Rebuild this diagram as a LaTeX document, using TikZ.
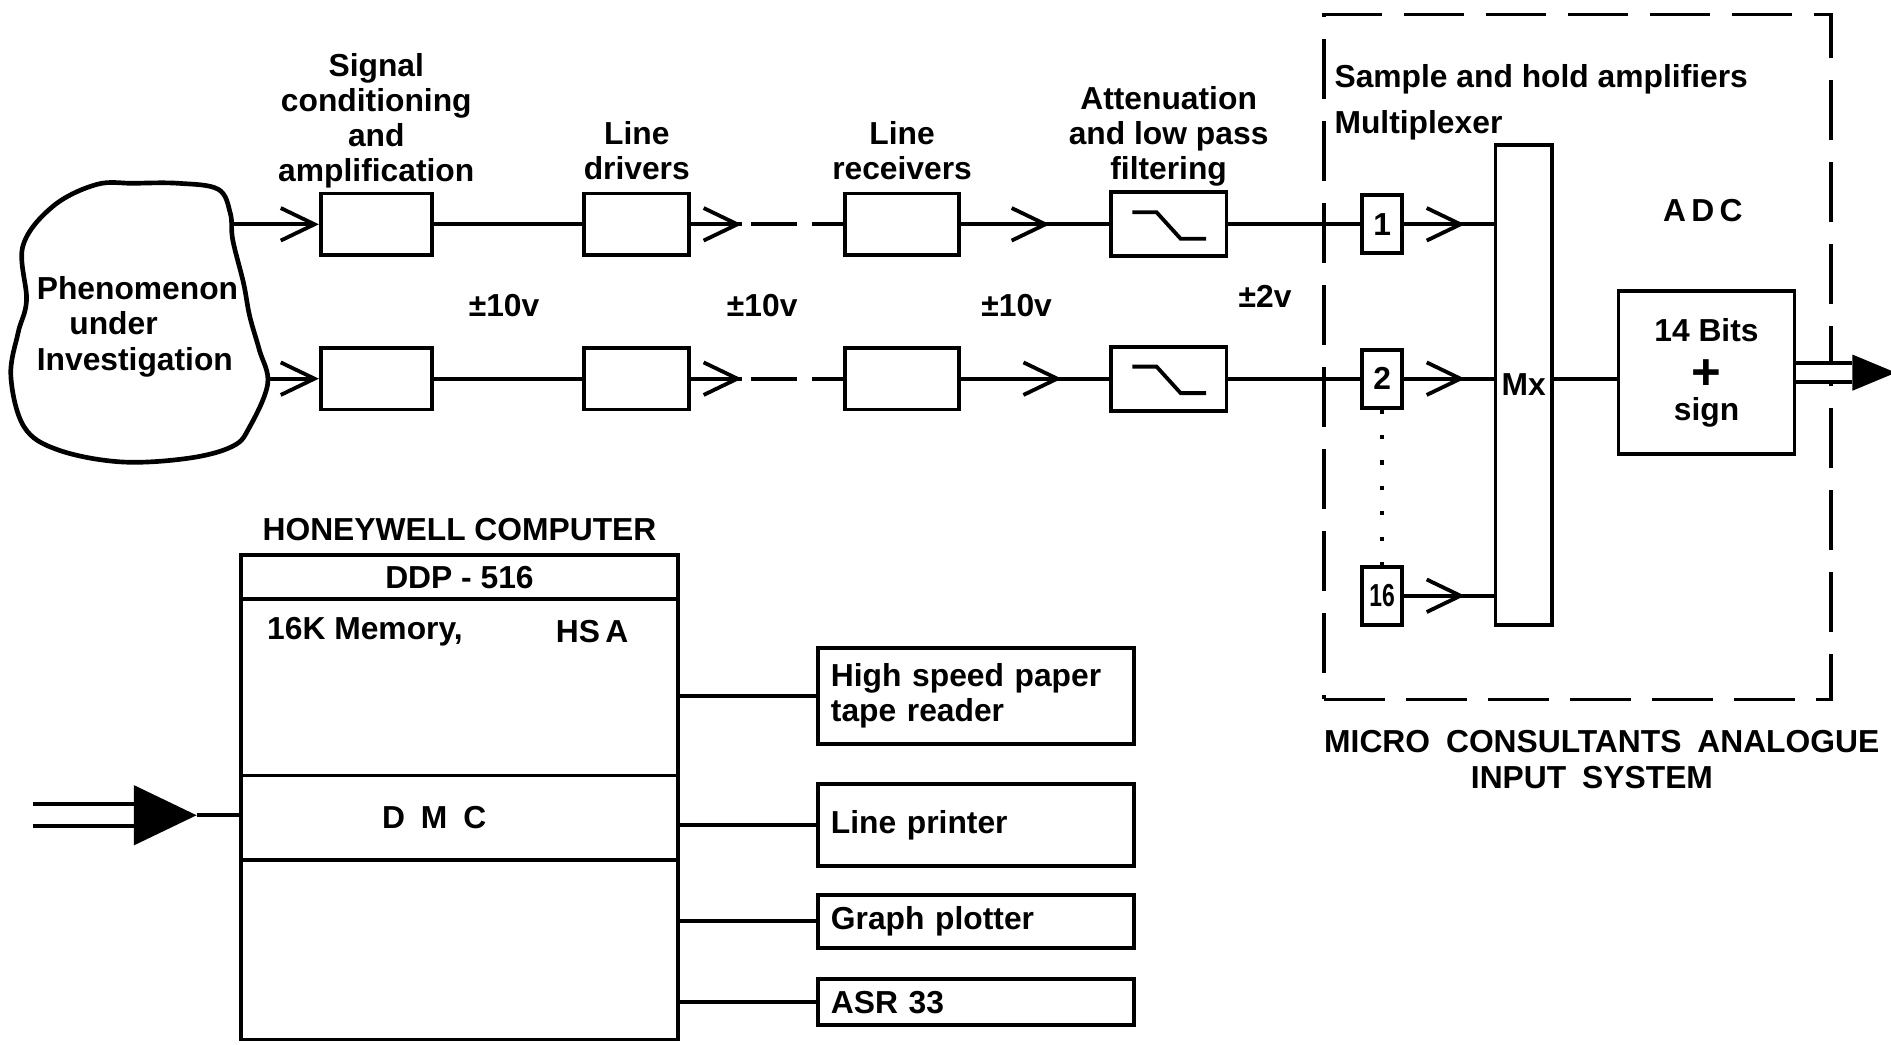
\documentclass[tikz,border=0pt]{standalone}
\usepackage{fontspec}
\setmainfont{Liberation Sans}
\usepackage{tikz}
\usetikzlibrary{arrows.meta,calc,positioning,decorations.markings}

\begin{document}
\begin{tikzpicture}[
  line width=0.9pt,
  font=\fontsize{7.5}{8.3}\selectfont\bfseries,
  >={Straight Barb[length=2.8mm,width=2.7mm]},
  blk/.style={draw,minimum width=0.92cm,minimum height=0.51cm,inner sep=0pt},
  shbox/.style={draw,minimum width=0.33cm,minimum height=0.48cm,inner sep=0pt},
  cpu/.style={draw,minimum width=3.62cm,inner sep=0pt,outer sep=0pt},
  peri/.style={draw,minimum width=2.62cm,text width=2.4cm,align=left,inner sep=0pt},
  lbl/.style={align=center,inner sep=0pt},
  midarrow/.style={postaction={decorate},
    decoration={markings,mark=at position #1 with {\arrow{>}}}},
  brk/.style={dash pattern=on 4.2mm off 0.8mm on 3.8mm off 1.2mm on 3mm},
  dbl/.style={double,double distance=#1},
]
\useasboundingbox (0,0) rectangle (15.68,8.66);

% phenomenon
\draw[line width=1.1pt] plot[smooth cycle,tension=0.6] coordinates {
  (0.80,7.13) (0.44,6.95) (0.19,6.62) (0.22,6.17) (0.15,5.90) (0.09,5.54)
  (0.20,5.12) (0.48,4.93) (1.00,4.83) (1.56,4.86) (1.93,4.96) (2.07,5.12)
  (2.22,5.48) (2.15,5.76) (2.07,6.04) (2.02,6.31) (1.93,6.67) (1.91,6.89)
  (1.81,7.09) (1.48,7.14) (1.11,7.14)};
\node[align=left,inner sep=0pt] (phen) at (1.14,5.95)
  {Phenomenon\\\hspace*{0.27cm}under\\Investigation};
\coordinate (src1) at (1.92,6.80);
\coordinate (src2) at (2.21,5.52);

% the two channels
\foreach \r/\y/\p in {1/6.80/0.6, 2/5.52/0.68} {
  \node[blk] (sc\r) at (3.12,\y) {};
  \node[blk,minimum width=0.87cm] (dr\r) at (5.28,\y) {};
  \node[blk,minimum width=0.95cm] (rc\r) at (7.48,\y) {};
  \node[blk,minimum width=0.96cm,minimum height=0.53cm] (fl\r) at (9.69,\y) {};
  \draw ($(fl\r.center)+(-0.30,0.10)$) -- ++(0.20,0) -- ++(0.20,-0.22) -- ++(0.21,0);
  \node[shbox] (sh\r) at (11.46,\y) {\r};
  \draw[->] (src\r) -- (sc\r.west);
  \draw (sc\r) -- (dr\r);
  \draw[brk,midarrow=4.2mm] (dr\r.east) -- (rc\r.west);
  \draw[midarrow=\p] (rc\r.east) -- (fl\r.west);
  \draw (fl\r) -- (sh\r);
}
\node[shbox] (sh16) at (11.46,3.72) {\scalebox{0.72}[1]{16}};
\draw[dash pattern=on 1pt off 5pt] (sh2.south) -- (sh16.north);

% channel labels
\node[lbl,above=0.01cm of sc1] (sclab) {Signal\\conditioning\\and\\amplification};
\node[lbl,above=0.08cm of dr1] (drlab) {Line\\drivers};
\node[lbl,above=0.08cm of rc1] (rclab) {Line\\receivers};
\node[lbl,above=0.02cm of fl1] (fllab) {Attenuation\\and low pass\\filtering};
\node (v1) at (4.18,6.13) {±10v};
\node (v2) at (6.32,6.13) {±10v};
\node (v3) at (8.43,6.13) {±10v};
\node (v4) at (10.49,6.20) {±2v};

% analogue input system
\node[draw,dash pattern=on 5mm off 1.8mm,minimum width=4.2cm,minimum height=5.68cm]
  (mcs) at (13.08,5.70) {};
\node[anchor=west,inner sep=0pt] (shlab) at (11.05,8.00) {Sample and hold amplifiers};
\node[anchor=west,inner sep=0pt] (mxlab) at (11.05,7.62) {Multiplexer};
\node[draw,minimum width=0.47cm,minimum height=3.98cm,inner sep=0pt] (mx) at (12.635,5.47) {Mx};
\foreach \s in {sh1,sh2,sh16}
  \draw[midarrow=0.68] (\s.east) -- (\s.east -| mx.west);
\node (adclab) at (14.12,6.91) {A\,D\,C};
\node[draw,minimum width=1.46cm,minimum height=1.35cm,align=center,inner sep=0pt] (adc) at (14.15,5.57)
  {14 Bits\\[3pt]{\fontsize{12}{12}\selectfont +}\\[-1pt]sign};
\draw (mx.east |- sh2.east) -- (adc.west |- sh2.east);
\coordinate (outb) at (15.36,5.57);
\draw[dbl=1.3mm] (adc.east) -- (outb);
\fill (outb) ++(0,0.15) -- ++(0.36,-0.15) -- ++(-0.36,-0.15) -- cycle;
\node[anchor=north west,inner sep=0pt] (mcap) at ([yshift=-0.22cm]mcs.south west)
  {MICRO\enspace CONSULTANTS\enspace ANALOGUE};
\node[inner sep=0pt] (mcap2) at (13.20,2.21) {INPUT\enspace SYSTEM};

% computer
\node[cpu,minimum height=0.37cm] (ddp) at (3.81,3.875) {DDP - 516};
\node[cpu,minimum height=1.46cm,below=0pt of ddp] (mem) {};
\node[cpu,minimum height=0.70cm,below=0pt of mem] (dmc) {};
\node[cpu,minimum height=1.49cm,below=0pt of dmc] (low) {};
\node[above=-0.02cm of ddp] (hwl) {HONEYWELL COMPUTER};
\node[anchor=west,inner sep=0pt] (memtxt) at ($(mem.north west)+(0.20,-0.27)$) {16K Memory,};
\node[inner sep=0pt] (hsa) at ($(mem.north west)+(2.91,-0.27)$) {HS\,A};
\node[inner sep=0pt] (dmctxt) at ($(dmc.center)+(-0.21,0)$) {D\enspace M\enspace C};

% input to DMC
\coordinate (hin) at (0.27,1.90);
\coordinate (hbase) at (1.11,1.90);
\draw[dbl=1.5mm] (hin) -- (hbase);
\fill (hbase) ++(0,0.25) -- ++(0.52,-0.25) coordinate (htip) -- ++(-0.52,-0.25) -- cycle;
\draw (htip) -- (htip -| dmc.west);

% peripherals
\node[peri,minimum height=0.80cm] (hsp) at (8.09,2.89) {High speed paper\\tape reader};
\node[peri,minimum height=0.68cm] (lp) at (8.09,1.82) {Line printer};
\node[peri,minimum height=0.44cm] (gp) at (8.09,1.02) {Graph plotter};
\node[peri,minimum height=0.38cm] (asr) at (8.09,0.35) {ASR 33};
\foreach \b in {hsp,lp,gp,asr}
  \draw (\b.west -| mem.east) -- (\b.west);
\end{tikzpicture}
\end{document}
